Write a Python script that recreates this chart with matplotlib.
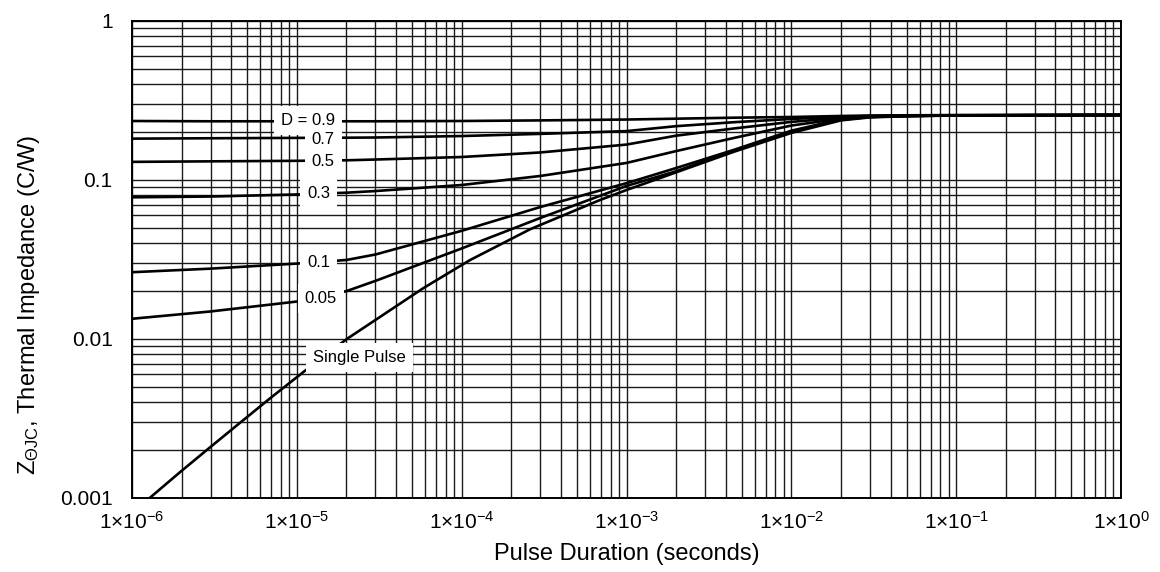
import numpy as np
import matplotlib
matplotlib.use("Agg")
import matplotlib.pyplot as plt
from matplotlib.ticker import LogLocator, NullFormatter, FuncFormatter

plt.rcParams["font.family"] = ["Liberation Sans", "DejaVu Sans"]
plt.rcParams["mathtext.fontset"] = "custom"
plt.rcParams["mathtext.rm"] = "Liberation Sans"
plt.rcParams["mathtext.it"] = "Liberation Sans:italic"

# Pulse duration (s) for the duty-cycle curves
pulse_time = [1e-6, 3e-6, 1e-5, 2e-5, 3e-5, 1e-4, 3e-4, 1e-3, 2e-3, 4.5e-3, 1e-2, 2e-2, 3e-2, 5e-2, 1e-1, 1.0]

# Thermal impedance (C/W) for each duty cycle
z_d09 = [0.235, 0.234, 0.234, 0.234, 0.234, 0.235, 0.237, 0.240, 0.243, 0.2465, 0.249, 0.2527, 0.2543, 0.2552, 0.2558, 0.2563]
z_d07 = [0.182, 0.183, 0.184, 0.1845, 0.185, 0.189, 0.195, 0.203, 0.218, 0.231, 0.242, 0.250, 0.2528, 0.2547, 0.2556, 0.2563]
z_d05 = [0.130, 0.131, 0.132, 0.133, 0.1345, 0.1395, 0.149, 0.167, 0.190, 0.211, 0.232, 0.246, 0.2505, 0.2538, 0.2552, 0.2563]
z_d03 = [0.0778, 0.0787, 0.0811, 0.0832, 0.0852, 0.093, 0.106, 0.128, 0.152, 0.184, 0.220, 0.243, 0.2495, 0.2527, 0.2550, 0.2563]
z_d01 = [0.0263, 0.0277, 0.0298, 0.0314, 0.0340, 0.0479, 0.0676, 0.0955, 0.1189, 0.1549, 0.2042, 0.241, 0.2500, 0.2529, 0.2549, 0.2563]
z_d005 = [0.0134, 0.0149, 0.0172, 0.0200, 0.0232, 0.0371, 0.0577, 0.0917, 0.1135, 0.1531, 0.2009, 0.2393, 0.2489, 0.2523, 0.2545, 0.2563]

# Single pulse curve
single_time = [1.28e-6, 1.95e-6, 2.97e-6, 4.52e-6, 6.87e-6, 1.12e-5, 2.01e-5, 5.86e-5, 1.12e-4,
               2.6e-4, 6.9e-4, 1e-3, 2e-3, 4.5e-3, 1e-2, 2e-2, 3e-2, 5e-2, 1e-1, 1.0]
single_z = [0.001, 0.00145, 0.00208, 0.00297, 0.00423, 0.00631, 0.0100, 0.0209, 0.0313,
            0.0490, 0.0748, 0.0865, 0.1117, 0.1507, 0.1977, 0.2371, 0.2477, 0.2518, 0.2545, 0.2563]

curves = [z_d09, z_d07, z_d05, z_d03, z_d01, z_d005]
labels = ["D = 0.9", "0.7", "0.5", "0.3", "0.1", "0.05"]
label_x = [1.7e-5, 1.7e-5, 1.7e-5, 1.6e-5, 1.6e-5, 1.75e-5]
label_y = [0.235, 0.1785, 0.130, 0.0817, 0.0302, 0.0181]

fig = plt.figure(figsize=(11.6, 5.72), dpi=100)
ax = fig.add_axes([0.1138, 0.1294, 0.8526, 0.8339])

for z in curves:
    ax.plot(pulse_time, z, color="black", lw=1.9, zorder=3)
ax.plot(single_time, single_z, color="black", lw=1.9, zorder=3)

box = dict(facecolor="white", edgecolor="none", pad=5)
for txt, lx, ly in zip(labels, label_x, label_y):
    ax.text(lx, ly, txt, ha="right", va="center", fontsize=12, bbox=box, zorder=5)
ax.text(1.25e-5, 0.0076, "Single Pulse", ha="left", va="center", fontsize=12, bbox=box, zorder=5)

ax.set_xscale("log")
ax.set_yscale("log")
ax.set_xlim(1e-6, 1)
ax.set_ylim(1e-3, 1)

ax.xaxis.set_major_locator(LogLocator(base=10, numticks=10))
ax.yaxis.set_major_locator(LogLocator(base=10, numticks=10))
ax.xaxis.set_minor_locator(LogLocator(base=10, subs=np.arange(2, 10), numticks=100))
ax.yaxis.set_minor_locator(LogLocator(base=10, subs=np.arange(2, 10), numticks=100))
ax.xaxis.set_minor_formatter(NullFormatter())
ax.yaxis.set_minor_formatter(NullFormatter())
ax.xaxis.set_major_formatter(FuncFormatter(lambda v, p: "1×10$^{%d}$" % int(round(np.log10(v)))))
ax.yaxis.set_major_formatter(FuncFormatter(lambda v, p: "%g" % v))

ax.grid(True, which="both", color="#1a1a1a", lw=1.0, zorder=1)
ax.set_axisbelow(True)
ax.tick_params(which="both", length=0, labelsize=15)
ax.tick_params(axis="x", pad=9)
ax.tick_params(axis="y", pad=14)
for s in ax.spines.values():
    s.set_linewidth(1.4)
    s.set_color("black")

ax.set_xlabel("Pulse Duration (seconds)", fontsize=17, labelpad=8)
ax.set_ylabel("Z$_{\\mathrm{ΘJC}}$, Thermal Impedance (C/W)", fontsize=17)
ax.yaxis.set_label_coords(-0.091, 0.405)

plt.savefig("out.png", dpi=100)
